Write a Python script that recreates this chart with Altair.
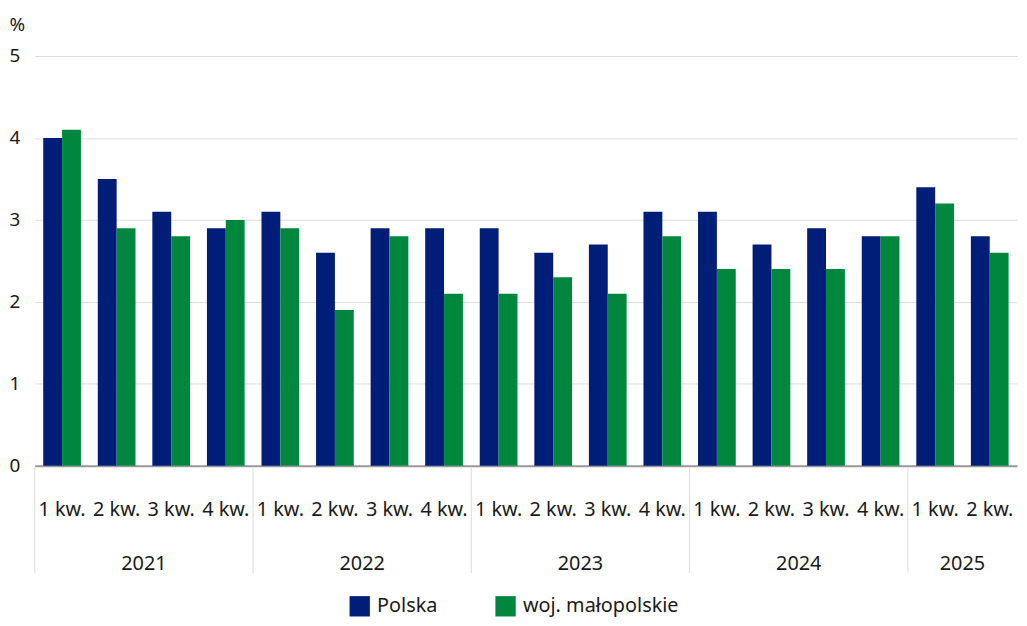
import altair as alt
import pandas as pd

years = ["2021"] * 4 + ["2022"] * 4 + ["2023"] * 4 + ["2024"] * 4 + ["2025"] * 2
quarters = ["1 kw.", "2 kw.", "3 kw.", "4 kw."] * 4 + ["1 kw.", "2 kw."]
polska = [4.0, 3.5, 3.1, 2.9, 3.1, 2.6, 2.9, 2.9, 2.9, 2.6, 2.7, 3.1, 3.1, 2.7, 2.9, 2.8, 3.4, 2.8]
malopolskie = [4.1, 2.9, 2.8, 3.0, 2.9, 1.9, 2.8, 2.1, 2.1, 2.3, 2.1, 2.8, 2.4, 2.4, 2.4, 2.8, 3.2, 2.6]
series_names = ["Polska", "woj. małopolskie"]
series_colors = ["#001d77", "#00873e"]

year_labels = ["2021", "2022", "2023", "2024", "2025"]
year_anchor_q = ["3 kw.", "3 kw.", "3 kw.", "3 kw.", "2 kw."]
sep_years = ["2021", "2022", "2023", "2024", "2025"]

keys = [f"{y}|{q}" for y, q in zip(years, quarters)]

rows = []
for k, p, m in zip(keys, polska, malopolskie):
    rows.append({"key": k, "series": series_names[0], "value": p})
    rows.append({"key": k, "series": series_names[1], "value": m})
bars_df = pd.DataFrame(rows)
year_df = pd.DataFrame({"key": [f"{y}|{q}" for y, q in zip(year_labels, year_anchor_q)], "year": year_labels})
sep_df = pd.DataFrame({"key": [f"{y}|1 kw." for y in sep_years]})

W, H = 990, 413
FONT = "Noto Sans"
TXT = "#1a1a1a"

xscale = alt.Scale(domain=keys, paddingInner=0, paddingOuter=0)
xaxis = alt.Axis(
    labelExpr="split(datum.label, '|')[1]",
    title=None,
    ticks=False,
    domainColor="#999999",
    domainWidth=2,
    labelPadding=34,
    labelFontSize=20,
    labelFont=FONT,
    labelColor=TXT,
    labelAngle=0,
    grid=False,
)

bars = alt.Chart(bars_df).mark_bar().encode(
    x=alt.X("key:N", scale=xscale, axis=xaxis),
    xOffset=alt.XOffset("series:N", sort=series_names,
                        scale=alt.Scale(paddingOuter=0.447, paddingInner=0)),
    y=alt.Y("value:Q", scale=alt.Scale(domain=[0, 5]),
            axis=alt.Axis(values=[0, 1, 2, 3, 4, 5], title="%", titleAngle=0,
                          titleAlign="left", titleBaseline="middle",
                          titleX=-26, titleY=-32, titleFontSize=19,
                          titleFont=FONT, titleFontWeight="normal", titleColor=TXT,
                          ticks=False, domain=False, labelPadding=15,
                          labelFontSize=19, labelFont=FONT, labelColor=TXT,
                          gridColor="#dddddd", gridWidth=1)),
    color=alt.Color("series:N", scale=alt.Scale(domain=series_names, range=series_colors),
                    legend=alt.Legend(title=None, orient="none", legendX=317, legendY=544,
                                      direction="horizontal", symbolType="square",
                                      symbolSize=420, symbolStrokeWidth=0, symbolOpacity=1,
                                      labelFontSize=20, labelFont=FONT, labelColor=TXT,
                                      labelOffset=7, columnPadding=58)),
)

seps = alt.Chart(sep_df).mark_rule(color="#dddddd", strokeWidth=1).encode(
    x=alt.X("key:N", scale=xscale, axis=xaxis, bandPosition=0),
    y=alt.value(H + 1),
    y2=alt.value(H + 108),
)

yr = alt.Chart(year_df).mark_text(fontSize=20, font=FONT, color=TXT, baseline="middle").encode(
    x=alt.X("key:N", scale=xscale, axis=xaxis, bandPosition=0),
    y=alt.value(H + 99),
    text="year:N",
)

chart = alt.layer(bars, seps, yr).properties(
    width=W, height=H,
    autosize=alt.AutoSizeParams(type="none"),
    padding={"left": 27, "top": 46, "right": 2, "bottom": 151},
).configure(background="white").configure_view(stroke=None)

chart.save("out.html", embed_options={"renderer": "svg", "actions": False})
